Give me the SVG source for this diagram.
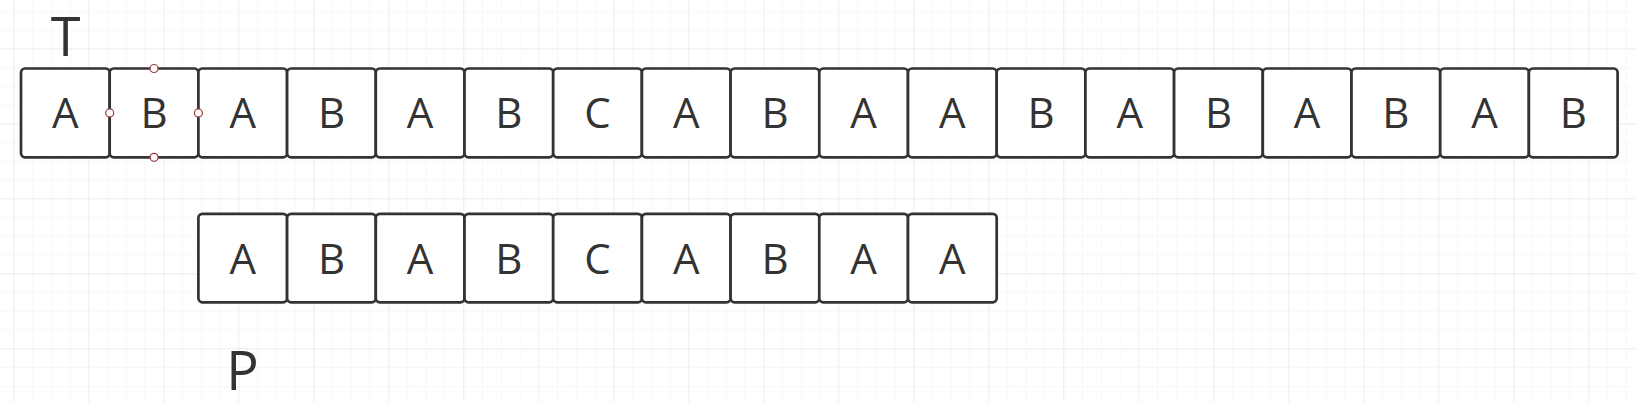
<svg xmlns="http://www.w3.org/2000/svg" width="1636" height="402" viewBox="0 0 1636 402">
<defs>
<pattern id="minor" x="13.3" y="-7.95" width="18.75" height="18.75" patternUnits="userSpaceOnUse">
<path d="M0 0 V18.75 M0 0 H18.75" fill="none" stroke="#f2f2f2" stroke-width="1"/>
</pattern>
<pattern id="major" x="13.3" y="-26.7" width="75" height="75" patternUnits="userSpaceOnUse">
<path d="M0 0 V75 M0 0 H75" fill="none" stroke="#e3e3e3" stroke-width="1"/>
</pattern>
</defs>
<style>
.box rect{fill:#ffffff;stroke:#333333;stroke-width:2.7}
.box text{font-family:"Open Sans","Noto Sans","DejaVu Sans",sans-serif;font-size:42px;fill:#333333;text-anchor:middle}
.lbl{font-family:"Open Sans","Noto Sans","DejaVu Sans",sans-serif;font-size:54px;fill:#333333}
.handle{fill:#ffffff;stroke:#9a3b3b;stroke-width:1.2}
</style>
<rect width="1636" height="402" fill="#ffffff"/>
<rect width="1636" height="402" fill="url(#minor)"/>
<rect width="1636" height="402" fill="url(#major)"/>
<text class="lbl" x="65.5" y="56" text-anchor="middle">T</text>
<text class="lbl" x="242.5" y="390" text-anchor="middle">P</text>
<g id="T">
<g id="t0" class="box"><rect x="21" y="68.5" width="88.7" height="88.8" rx="4"/><text x="65.35" y="128.3">A</text></g>
<g id="t1" class="box"><rect x="109.7" y="68.5" width="88.7" height="88.8" rx="4"/><text x="154.05" y="128.3">B</text></g>
<g id="t2" class="box"><rect x="198.4" y="68.5" width="88.7" height="88.8" rx="4"/><text x="242.75" y="128.3">A</text></g>
<g id="t3" class="box"><rect x="287.1" y="68.5" width="88.7" height="88.8" rx="4"/><text x="331.45" y="128.3">B</text></g>
<g id="t4" class="box"><rect x="375.8" y="68.5" width="88.7" height="88.8" rx="4"/><text x="420.15" y="128.3">A</text></g>
<g id="t5" class="box"><rect x="464.5" y="68.5" width="88.7" height="88.8" rx="4"/><text x="508.85" y="128.3">B</text></g>
<g id="t6" class="box"><rect x="553.2" y="68.5" width="88.7" height="88.8" rx="4"/><text x="597.55" y="128.3">C</text></g>
<g id="t7" class="box"><rect x="641.9" y="68.5" width="88.7" height="88.8" rx="4"/><text x="686.25" y="128.3">A</text></g>
<g id="t8" class="box"><rect x="730.6" y="68.5" width="88.7" height="88.8" rx="4"/><text x="774.95" y="128.3">B</text></g>
<g id="t9" class="box"><rect x="819.3" y="68.5" width="88.7" height="88.8" rx="4"/><text x="863.65" y="128.3">A</text></g>
<g id="t10" class="box"><rect x="908" y="68.5" width="88.7" height="88.8" rx="4"/><text x="952.35" y="128.3">A</text></g>
<g id="t11" class="box"><rect x="996.7" y="68.5" width="88.7" height="88.8" rx="4"/><text x="1041.05" y="128.3">B</text></g>
<g id="t12" class="box"><rect x="1085.4" y="68.5" width="88.7" height="88.8" rx="4"/><text x="1129.75" y="128.3">A</text></g>
<g id="t13" class="box"><rect x="1174.1" y="68.5" width="88.7" height="88.8" rx="4"/><text x="1218.45" y="128.3">B</text></g>
<g id="t14" class="box"><rect x="1262.8" y="68.5" width="88.7" height="88.8" rx="4"/><text x="1307.15" y="128.3">A</text></g>
<g id="t15" class="box"><rect x="1351.5" y="68.5" width="88.7" height="88.8" rx="4"/><text x="1395.85" y="128.3">B</text></g>
<g id="t16" class="box"><rect x="1440.2" y="68.5" width="88.7" height="88.8" rx="4"/><text x="1484.55" y="128.3">A</text></g>
<g id="t17" class="box"><rect x="1528.9" y="68.5" width="88.7" height="88.8" rx="4"/><text x="1573.25" y="128.3">B</text></g>
</g>
<g id="P">
<g id="p0" class="box"><rect x="198.4" y="213.8" width="88.7" height="88.5" rx="4"/><text x="242.75" y="273.6">A</text></g>
<g id="p1" class="box"><rect x="287.1" y="213.8" width="88.7" height="88.5" rx="4"/><text x="331.45" y="273.6">B</text></g>
<g id="p2" class="box"><rect x="375.8" y="213.8" width="88.7" height="88.5" rx="4"/><text x="420.15" y="273.6">A</text></g>
<g id="p3" class="box"><rect x="464.5" y="213.8" width="88.7" height="88.5" rx="4"/><text x="508.85" y="273.6">B</text></g>
<g id="p4" class="box"><rect x="553.2" y="213.8" width="88.7" height="88.5" rx="4"/><text x="597.55" y="273.6">C</text></g>
<g id="p5" class="box"><rect x="641.9" y="213.8" width="88.7" height="88.5" rx="4"/><text x="686.25" y="273.6">A</text></g>
<g id="p6" class="box"><rect x="730.6" y="213.8" width="88.7" height="88.5" rx="4"/><text x="774.95" y="273.6">B</text></g>
<g id="p7" class="box"><rect x="819.3" y="213.8" width="88.7" height="88.5" rx="4"/><text x="863.65" y="273.6">A</text></g>
<g id="p8" class="box"><rect x="908" y="213.8" width="88.7" height="88.5" rx="4"/><text x="952.35" y="273.6">A</text></g>
</g>
<g id="handles">
<circle class="handle" cx="154.05" cy="68.5" r="4"/>
<circle class="handle" cx="154.05" cy="157.3" r="4"/>
<circle class="handle" cx="109.7" cy="112.9" r="4"/>
<circle class="handle" cx="198.4" cy="112.9" r="4"/>
</g>
</svg>
